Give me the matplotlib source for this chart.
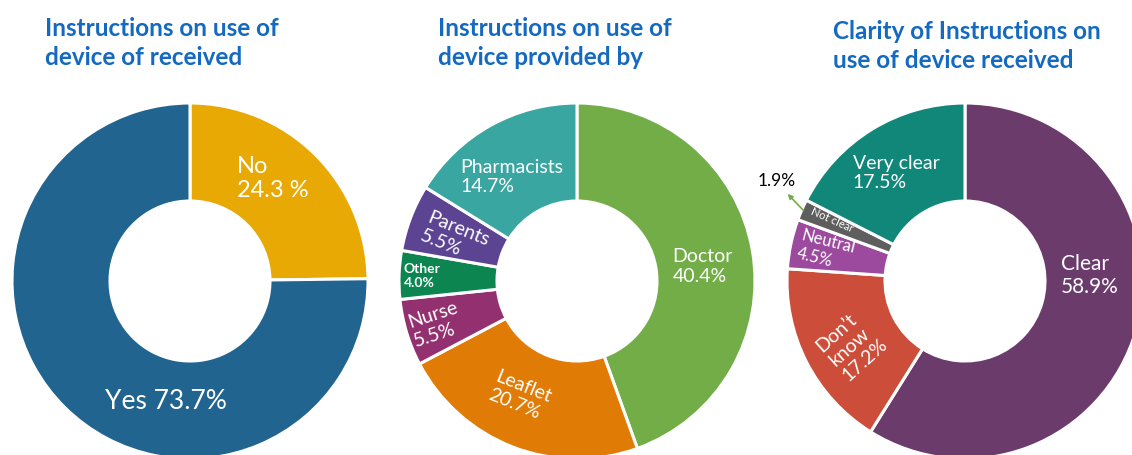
import numpy as np
import matplotlib.pyplot as plt

# ---- data ----
received_labels = ["No", "Yes"]
received_values = [24.3, 73.7]

provider_labels = ["Doctor", "Leaflet", "Nurse", "Other", "Parents", "Pharmacists"]
provider_values = [40.4, 20.7, 5.5, 4.0, 5.5, 14.7]

clarity_labels = ["Clear", "Don\u2019t\nknow", "Neutral", "Not clear", "Very clear"]
clarity_values = [58.9, 17.2, 4.5, 1.9, 17.5]

titles = [
    "Instructions on use of\ndevice of received",
    "Instructions on use of\ndevice provided by",
    "Clarity of Instructions on\nuse of device received",
]

# ---- styles ----
FONT = ["Lato", "DejaVu Sans"]
TITLE_COLOR = "#1469C0"
received_colors = ["#E8A904", "#20648F"]
provider_colors = ["#72AD47", "#E07B06", "#93306F", "#0C8550", "#5C4492", "#3AA6A1"]
clarity_colors = ["#6B3B6C", "#CC4D39", "#9C4A9E", "#5E5E5E", "#11877A"]

W, H = 1132, 455
R = 178
HOLE = 80

fig = plt.figure(figsize=(W / 100, H / 100), dpi=100)
plt.rcParams["font.family"] = FONT


def donut_axes(cx, cy):
    ax = fig.add_axes([(cx - R) / W, (H - cy - R) / H, 2 * R / W, 2 * R / H])
    ax.axis("off")
    return ax


def donut(ax, values, colors):
    wedges, _ = ax.pie(
        values, colors=colors, startangle=90, counterclock=False, radius=1.0,
        wedgeprops=dict(width=1 - HOLE / R, edgecolor="white", linewidth=2.2,
                        joinstyle="round"),
    )
    ax.set_xlim(-1.0, 1.0)
    ax.set_ylim(-1.0, 1.0)
    ax.set_aspect("equal")
    for w in wedges:
        w.set_clip_on(False)
    return wedges


def put_labels(ax, wedges, texts, style):
    # style: (angle shift, radius, rotation, size, weight)
    for w, t, (dang, r, rot, size, weight) in zip(wedges, texts, style):
        mid = np.deg2rad((w.theta1 + w.theta2) / 2 + dang)
        ax.text(r * np.cos(mid), r * np.sin(mid), t, color="white", fontsize=size,
                fontweight=weight, rotation=rot, ha="center", va="center",
                multialignment="left", linespacing=1.2, rotation_mode="anchor")


def fmt(labels, values):
    return [f"{l}\n{v:.1f}%" for l, v in zip(labels, values)]


# chart 1
ax1 = donut_axes(190, 281)
w1 = donut(ax1, received_values, received_colors)
t1 = [f"{received_labels[0]}\n{received_values[0]:.1f} %",
      f"{received_labels[1]} {received_values[1]:.1f}%"]
put_labels(ax1, w1, t1, [
    (5.7, 0.74, 0, 17, "normal"),
    (33.4, 0.69, 0, 19, "normal"),
])

# chart 2
ax2 = donut_axes(577, 281)
w2 = donut(ax2, provider_values, provider_colors)
put_labels(ax2, w2, fmt(provider_labels, provider_values), [
    (-3.5, 0.71, 0, 14, "normal"),
    (-5.4, 0.72, -22, 14, "normal"),
    (0.3, 0.83, 18, 14, "normal"),
    (0.0, 0.87, 0, 10, "bold"),
    (1.5, 0.73, -22, 14, "normal"),
    (3.0, 0.69, 0, 14, "normal"),
])

# chart 3
ax3 = donut_axes(965, 281)
w3 = donut(ax3, clarity_values, clarity_colors)
t3 = fmt(clarity_labels, clarity_values)
t3[3] = clarity_labels[3]
put_labels(ax3, w3, t3, [
    (18.5, 0.70, 0, 15, "normal"),
    (2.6, 0.73, 42, 14, "normal"),
    (0.0, 0.80, -14, 12, "normal"),
    (-1.2, 0.82, -24, 8, "normal"),
    (1.0, 0.72, 0, 14, "normal"),
])
nc = w3[3]
a = np.deg2rad((nc.theta1 + nc.theta2) / 2)
ax3.annotate(f"{clarity_values[3]:.1f}%", xy=(1.06 * np.cos(a - 0.05), 1.06 * np.sin(a - 0.05)),
             xytext=(1.2 * np.cos(a - 0.075), 1.2 * np.sin(a - 0.075)),
             fontsize=12.5, color="black", ha="center", va="center",
             annotation_clip=False)
ax3.annotate("", xy=(1.11 * np.cos(a - 0.045), 1.11 * np.sin(a - 0.045)),
             xytext=(0.99 * np.cos(a), 0.99 * np.sin(a)),
             annotation_clip=False,
             arrowprops=dict(arrowstyle="-|>", color="#72AD47", lw=1.2,
                             shrinkA=0, shrinkB=0, mutation_scale=7))

# titles
for (x, y), t in zip([(45, 17), (438, 17), (833, 20)], titles):
    fig.text(x / W, 1 - y / H, t, color=TITLE_COLOR, fontsize=17.5, fontweight="bold",
             ha="left", va="top", linespacing=1.32)

fig.savefig("out.png", dpi=100)
